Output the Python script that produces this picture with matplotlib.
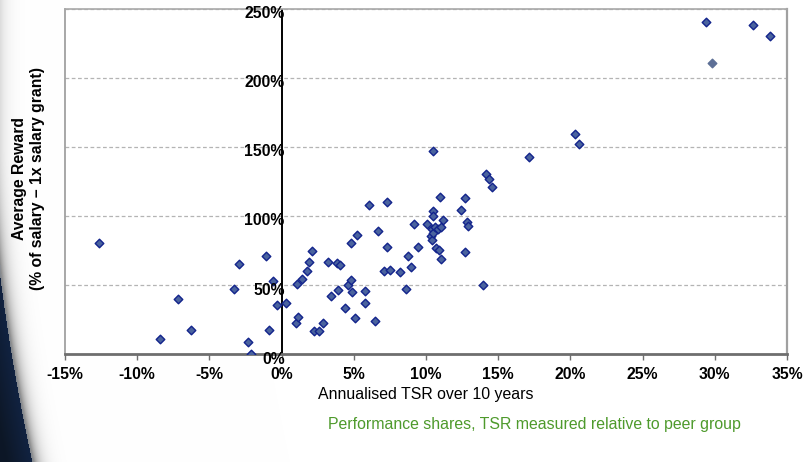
import numpy as np
import matplotlib
matplotlib.use("Agg")
import matplotlib.pyplot as plt
from matplotlib.transforms import offset_copy

plt.rcParams['font.family'] = ['Liberation Sans', 'DejaVu Sans']

# Annualised TSR over 10 years (%) and average reward (% of salary)
tsr = [-12.67, -8.43, -7.20, -6.28, -3.32, -2.98, -2.35, -2.15, -1.11, -0.90,
       -0.62, -0.30, 0.28, 1.01, 1.06, 1.11, 1.43, 1.73, 1.91, 2.08,
       2.26, 2.56, 2.84, 3.23, 3.43, 3.85, 3.92, 4.06, 4.36, 4.59,
       4.78, 4.78, 4.89, 5.08, 5.19, 5.75, 5.77, 6.07, 6.48, 6.67,
       7.06, 7.27, 7.31, 7.50, 8.19, 8.63, 8.77, 8.93, 9.16, 9.46,
       10.08, 10.34, 10.41, 10.43, 10.46, 10.48, 10.50, 10.50, 10.64, 10.71,
       10.80, 10.89, 10.94, 11.01, 11.01, 11.19, 12.42, 12.67, 12.72, 12.81,
       12.88, 13.96, 14.17, 14.36, 14.59, 17.11, 20.31, 20.57, 29.36, 32.64,
       33.84]
reward = [80.3, 10.9, 39.8, 17.8, 47.0, 65.1, 8.7, 0.0, 71.3, 17.4,
          53.3, 35.9, 36.9, 22.4, 51.1, 27.2, 54.5, 60.3, 67.0, 74.8,
          17.1, 17.1, 22.9, 67.0, 42.0, 66.3, 46.7, 64.6, 33.7, 50.4,
          80.3, 53.5, 44.9, 26.5, 86.3, 46.0, 37.1, 108.0, 24.3, 89.4,
          60.1, 77.6, 110.0, 60.8, 59.3, 47.5, 71.1, 63.2, 94.5, 77.9,
          94.5, 85.6, 90.4, 82.7, 103.9, 147.3, 100.1, 88.0, 91.9, 76.7,
          90.9, 75.5, 114.0, 92.1, 69.2, 97.0, 104.6, 73.8, 112.9, 96.0,
          92.6, 50.1, 130.2, 126.9, 120.6, 142.3, 159.2, 152.0, 240.0, 238.3,
          229.8]

# Highlighted company drawn in a muted tone
tsr_alt = [29.82]
reward_alt = [210.3]

x_ticks = [-15, -10, -5, 0, 5, 10, 15, 20, 25, 30, 35]
x_labels = ['-15%', '-10%', '-5%', '0%', '5%', '10%', '15%', '20%', '25%', '30%', '35%']
y_ticks = [0, 50, 100, 150, 200, 250]
y_labels = ['0%', '50%', '100%', '150%', '200%', '250%']

W, H = 809, 462
fig = plt.figure(figsize=(W / 100, H / 100), dpi=100)

# Decorative dark swoosh with soft shading along the left edge
bg = fig.add_axes([0, 0, 1, 1], zorder=-10)
bg.set_axis_off()
yy, xx = np.mgrid[0:H, 0:W].astype(float)
t = np.clip((yy - 150) / 312.0, 0, 1)
xb = -10 + 42 * t ** 1.6
d = xx - xb
gray = 1 - 0.55 * np.exp(-np.clip(d, 0, None) / 7.0)
img = np.dstack([gray, gray, gray])
dark = d < 0
depth = np.clip(-d / 25.0, 0, 1)
dark_col = np.array([0.05, 0.09, 0.15])
glow = np.array([0.10, 0.22, 0.45])
mix = (1 - depth)[..., None] * 0.35
col = dark_col + mix * (glow - dark_col)
img[dark] = col[dark]
edge = (d >= 0) & (d < 1.5)
img[edge] = 0.5 * img[edge] + 0.5 * np.array([0.55, 0.58, 0.62])
bg.imshow(img, extent=[0, W, H, 0], aspect='auto', interpolation='bilinear')
bg.set_xlim(0, W)
bg.set_ylim(H, 0)

ax = fig.add_axes([65 / W, 1 - 354.3 / H, (787 - 65) / W, (354.3 - 8.5) / H])
ax.set_xlim(-15, 35)
ax.set_ylim(0, 250)

# Dashed horizontal gridlines
for v in y_ticks[1:]:
    ax.axhline(v, color='#b4b4b4', lw=0.9, ls=(0, (3, 2)), zorder=1)

# Vertical axis line through 0% TSR
ax.axvline(0, color='black', lw=1.4, zorder=2)

ax.scatter(tsr, reward, marker='D', s=19, facecolor='#4a639e',
           edgecolor='#12238c', linewidths=1.0, zorder=3)
ax.scatter(tsr_alt, reward_alt, marker='D', s=19, facecolor='#5d6f96',
           edgecolor='#5d6f96', linewidths=1.0, zorder=3)

for side, c, lw in [('top', '#a8a8a8', 1.2), ('right', '#a0a0a0', 1.6),
                    ('bottom', '#6e6e6e', 2.0), ('left', '#999999', 1.2)]:
    ax.spines[side].set_color(c)
    ax.spines[side].set_linewidth(lw)

ax.set_xticks(x_ticks)
ax.set_xticklabels(x_labels, fontsize=11.3, fontweight='bold')
ax.tick_params(axis='x', direction='out', length=4, width=1, color='#6e6e6e', pad=5.5)
ax.set_yticks([])

# Percentage labels sitting just left of the 0% TSR line
ylab_tr = offset_copy(ax.transData, fig=fig, x=3, y=-5, units='dots')
for v, lab in zip(y_ticks, y_labels):
    ax.text(0, v, lab, transform=ylab_tr, ha='right', va='center',
            fontsize=11.3, fontweight='bold', zorder=4, clip_on=False)

fig.text(426 / W, 1 - 394 / H, 'Annualised TSR over 10 years',
         ha='center', va='center', fontsize=11.4)
fig.text(28.5 / W, 1 - 179 / H, 'Average Reward\n(% of salary \u2013 1x salary grant)',
         ha='center', va='center', rotation=90, fontsize=11.3,
         fontweight='bold', multialignment='center', linespacing=1.2)
fig.text(534 / W, 1 - 424 / H,
         'Performance shares, TSR measured relative to peer group',
         ha='center', va='center', fontsize=11.4, color='#4e9a2c')

fig.savefig('out.png', dpi=100)
